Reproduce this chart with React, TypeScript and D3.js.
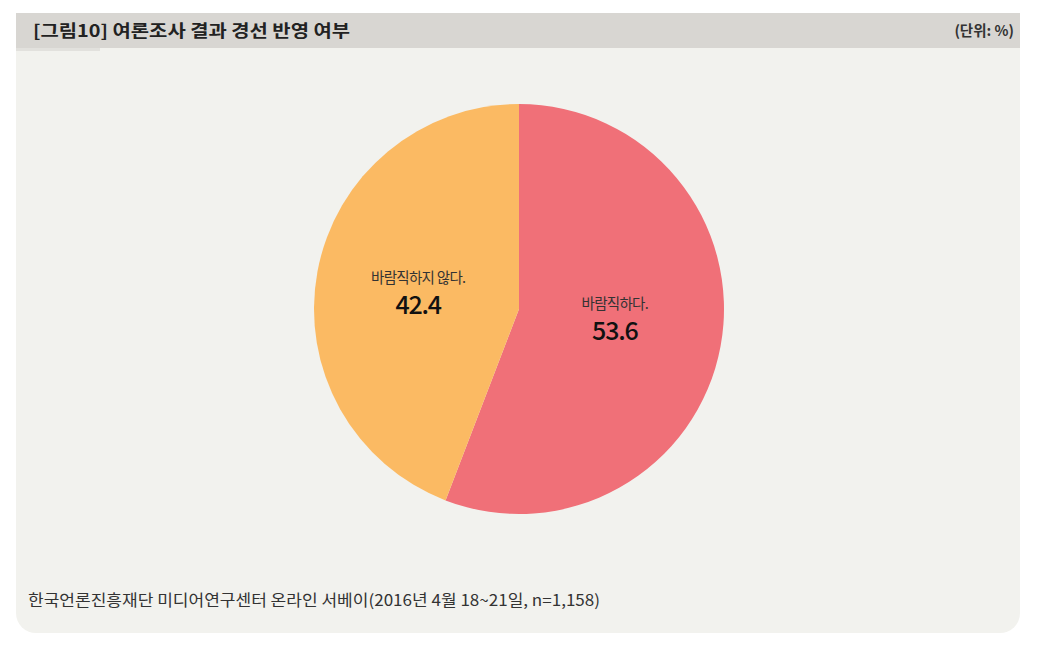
import React from 'react';
import * as d3 from 'd3';

// 데이터
const labels = ['바람직하다.', '바람직하지 않다.'];
const values = [53.6, 42.4];
const colors = ['#f07078', '#fbba63'];

const title = '[그림10] 여론조사 결과 경선 반영 여부';
const unit = '(단위: %)';
const source = '한국언론진흥재단 미디어연구센터 온라인 서베이(2016년 4월 18~21일, n=1,158)';

const W = 1048;
const H = 651;
const FONT = '"Noto Sans CJK KR", "Noto Sans", sans-serif';

const App: React.FC = () => {
  const cx = 519;
  const cy = 309;
  const r = 205;

  const pie = d3.pie<number>().sort(null).value(d => d).startAngle(0).endAngle(2 * Math.PI);
  const arcs = pie(values);
  const arc = d3.arc<d3.PieArcDatum<number>>().innerRadius(0).outerRadius(r);
  // 라벨 위치 (조각 중심에서 반지름 비율)
  const labelArc = d3.arc<d3.PieArcDatum<number>>().innerRadius(r * 0.5).outerRadius(r * 0.5);
  const offsets = [
    { dx: -5, dy: -16 }, // 바람직하다.
    { dx: 0, dy: -4 },   // 바람직하지 않다.
  ];

  return (
    <svg
      width={W}
      height={H}
      viewBox={`0 0 ${W} ${H}`}
      style={{ position: 'absolute', left: 0, top: 0, background: '#fff' }}
      fontFamily={FONT}
    >
      {/* 패널 */}
      <path
        d={`M16,48 H1020 V613 A20,20 0 0 1 1000,633 H36 A20,20 0 0 1 16,613 Z`}
        fill="#f2f2ee"
      />
      <rect x={16} y={13} width={1004} height={35} fill="#d8d6d2" />
      <rect x={16} y={48} width={84} height={3} fill="#e2e1dd" />
      <text x={33} y={37} fontSize={17} fontWeight={700} fill="#222" textLength={317} lengthAdjust="spacingAndGlyphs">
        {title}
      </text>
      <text x={1014} y={36} fontSize={14.5} fontWeight={700} fill="#333" textAnchor="end">
        {unit}
      </text>

      <g transform={`translate(${cx},${cy})`}>
        {arcs.map((a, i) => (
          <path key={i} d={arc(a) || ''} fill={colors[i]} />
        ))}
        {arcs.map((a, i) => {
          const [lx, ly] = labelArc.centroid(a);
          const { dx, dy } = offsets[i];
          return (
            <g key={'l' + i} transform={`translate(${lx + dx},${ly + dy})`}>
              <text textAnchor="middle" y={-3} fontSize={14.5} fill="#333" letterSpacing={-0.7}>
                {labels[i]}
              </text>
              <text textAnchor="middle" y={28} fontSize={25} fontWeight={500} fill="#111" letterSpacing={-1.2}>
                {values[i].toFixed(1)}
              </text>
            </g>
          );
        })}
      </g>

      <text x={28} y={606} fontSize={16} fill="#333" textLength={572} lengthAdjust="spacingAndGlyphs">
        {source}
      </text>
    </svg>
  );
};

export default App;
